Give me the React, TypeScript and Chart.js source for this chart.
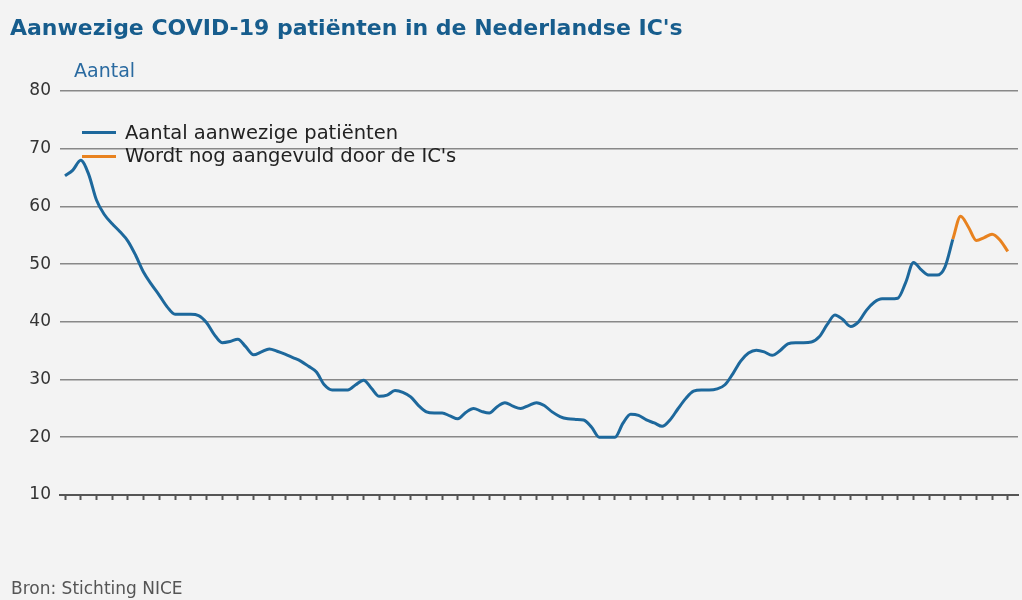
import React, { useEffect, useRef } from 'react';
import { Chart, registerables } from 'chart.js';

Chart.register(...registerables);

// Day index (x axis), tick marks every second day
const days: number[] = Array.from({ length: 121 }, (_, i) => i);
const tickDays: number[] = days.filter((d) => d % 2 === 0);

// Aantal aanwezige patiënten (day 0 .. 113)
const reportedValues: number[] = [
  65.3, 66.3, 68.0, 65.6, 61.1, 58.6, 57.0, 55.6, 54.0, 51.5,
  48.6, 46.5, 44.6, 42.6, 41.3, 41.3, 41.3, 41.1, 39.9, 37.8,
  36.4, 36.6, 37.0, 35.7, 34.3, 34.8, 35.3, 34.9, 34.4, 33.8,
  33.2, 32.3, 31.3, 29.1, 28.2, 28.2, 28.2, 29.1, 29.9, 28.5,
  27.1, 27.3, 28.1, 27.8, 27.0, 25.5, 24.4, 24.2, 24.2, 23.7,
  23.2, 24.3, 25.0, 24.5, 24.2, 25.3, 26.0, 25.4, 25.0, 25.5,
  26.0, 25.5, 24.4, 23.6, 23.2, 23.1, 23.0, 21.8, 20.0, 20.0,
  20.0, 22.4, 24.0, 23.8, 23.0, 22.5, 21.9, 23.0, 24.9, 26.7,
  28.0, 28.2, 28.2, 28.4, 29.1, 31.0, 33.2, 34.6, 35.1, 34.8,
  34.2, 35.0, 36.2, 36.4, 36.4, 36.5, 37.4, 39.5, 41.2, 40.4,
  39.2, 40.0, 42.0, 43.4, 44.0, 44.0, 44.1, 46.8, 50.3, 49.0,
  48.1, 48.1, 49.5, 54.3,
];

// Wordt nog aangevuld door de IC's (day 113 .. 120)
const pendingStart = 113;
const pendingValues: number[] = [54.3, 58.3, 56.4, 54.1, 54.6, 55.2, 54.2, 52.2];

const yTicks = { min: 10, max: 80, step: 10 };

const TITLE = "Aanwezige COVID-19 patiënten in de Nederlandse IC's";
const Y_TITLE = 'Aantal';
const LEGEND_1 = 'Aantal aanwezige patiënten';
const LEGEND_2 = "Wordt nog aangevuld door de IC's";
const SOURCE = 'Bron: Stichting NICE';

const BG = '#f3f3f3';
const BLUE = '#1d689c';
const ORANGE = '#e8821f';

export default function App() {
  const ref = useRef<HTMLCanvasElement>(null);

  useEffect(() => {
    document.body.style.margin = '0';
    document.body.style.background = BG;
    const blueData = days.map((d) => (d < reportedValues.length ? reportedValues[d] : null));
    const orangeData = days.map((d) =>
      d >= pendingStart && d - pendingStart < pendingValues.length ? pendingValues[d - pendingStart] : null
    );
    const chart = new Chart(ref.current as HTMLCanvasElement, {
      type: 'line',
      data: {
        labels: days,
        datasets: [
          {
            label: LEGEND_1,
            data: blueData,
            borderColor: BLUE,
            borderWidth: 3,
            pointRadius: 0,
            cubicInterpolationMode: 'monotone',
            fill: false,
          },
          {
            label: LEGEND_2,
            data: orangeData,
            borderColor: ORANGE,
            borderWidth: 3,
            pointRadius: 0,
            cubicInterpolationMode: 'monotone',
            fill: false,
          },
        ],
      },
      options: {
        responsive: false,
        devicePixelRatio: 1,
        animation: false,
        layout: { padding: { left: 0, top: 91, right: 4, bottom: 100 } },
        plugins: {
          legend: { display: false },
          tooltip: { enabled: false },
        },
        scales: {
          x: {
            type: 'linear',
            min: -0.64,
            max: 121.3,
            afterBuildTicks: (s: any) => {
              s.ticks = tickDays.map((v) => ({ value: v }));
            },
            afterFit: (s: any) => {
              s.height = 5;
            },
            ticks: { display: false, autoSkip: false },
            grid: {
              display: true,
              drawOnChartArea: false,
              drawTicks: true,
              tickLength: 5,
              tickColor: '#555555',
              tickWidth: 2,
            },
            border: { display: true, color: '#555555', width: 2 },
          },
          y: {
            min: yTicks.min,
            max: yTicks.max,
            afterFit: (s: any) => {
              s.width = 60;
            },
            ticks: {
              stepSize: yTicks.step,
              padding: 9,
              color: '#333333',
              font: { family: 'DejaVu Sans', size: 17 },
            },
            grid: { color: '#888888', lineWidth: 1.6, drawTicks: false },
            border: { display: false },
          },
        },
      },
    } as any);
    return () => chart.destroy();
  }, []);

  const txt = (size: number, extra: React.CSSProperties): React.CSSProperties => ({
    position: 'absolute',
    fontFamily: 'DejaVu Sans, Verdana, sans-serif',
    fontSize: size,
    lineHeight: `${size}px`,
    whiteSpace: 'nowrap',
    ...extra,
  });

  return (
    <div style={{ position: 'relative', width: 1022, height: 600, background: BG, overflow: 'hidden' }}>
      <canvas ref={ref} width={1022} height={600} style={{ position: 'absolute', left: 0, top: 0 }} />
      <div style={txt(22, { left: 10, top: 17, fontWeight: 'bold', color: '#175d8d' })}>{TITLE}</div>
      <div style={txt(19, { left: 74, top: 61, color: '#2a6aa0' })}>{Y_TITLE}</div>
      <div style={{ position: 'absolute', left: 82, top: 131, width: 34, height: 3, background: BLUE }} />
      <div style={txt(19.5, { left: 125, top: 123, color: '#222222' })}>{LEGEND_1}</div>
      <div style={{ position: 'absolute', left: 82, top: 154.5, width: 34, height: 3, background: ORANGE }} />
      <div style={txt(19.5, { left: 125, top: 145.5, color: '#222222' })}>{LEGEND_2}</div>
      <div style={txt(17, { left: 11, top: 580, color: '#555555' })}>{SOURCE}</div>
    </div>
  );
}
